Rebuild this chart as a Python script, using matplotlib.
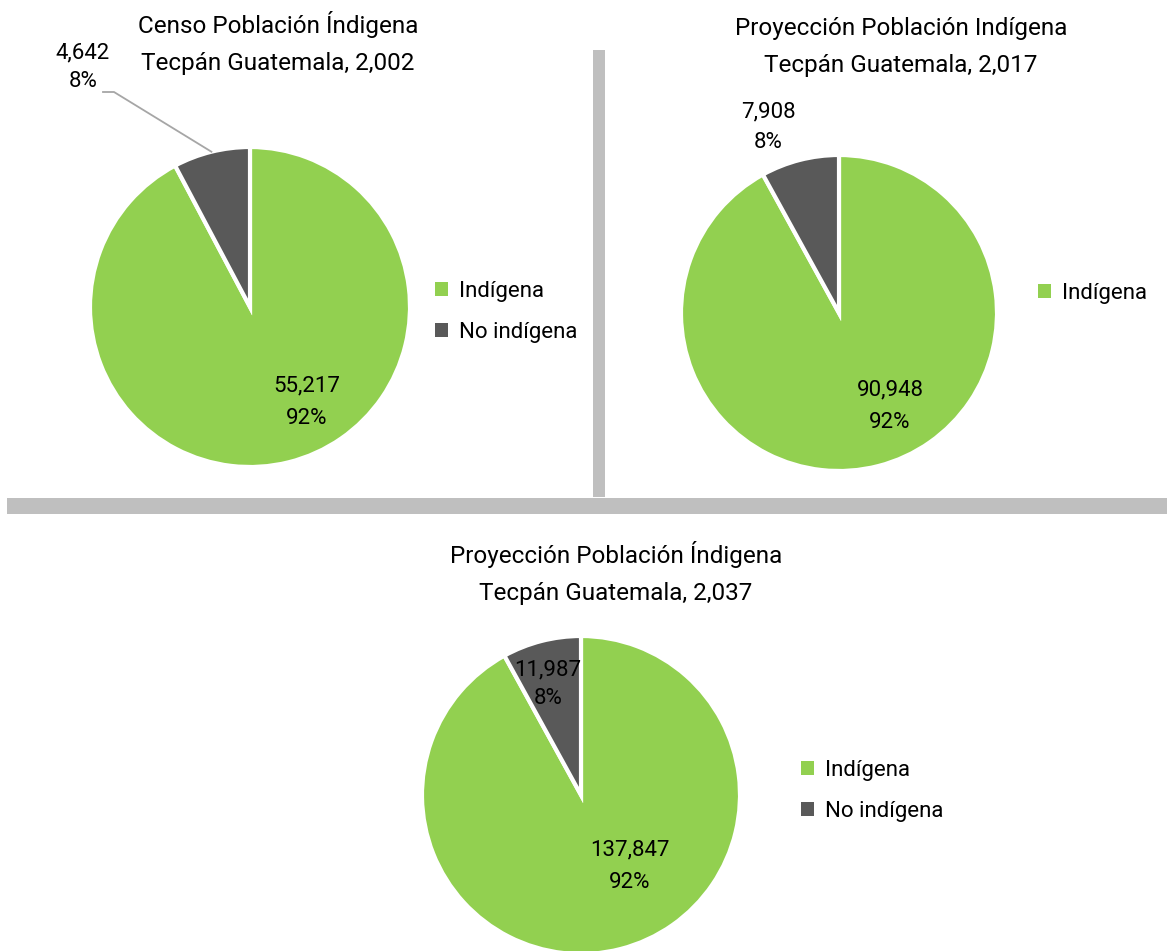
import matplotlib
matplotlib.use("Agg")
import matplotlib.pyplot as plt
from matplotlib.patches import Patch, Rectangle
import numpy as np

# ---------------- data ----------------
categories = ["Indígena", "No indígena"]
titles = [
    "Censo Población Índigena\nTecpán Guatemala, 2,002",
    "Proyección Población Indígena\nTecpán Guatemala, 2,017",
    "Proyección Población Índigena\nTecpán Guatemala, 2,037",
]
values_2002 = [55217, 4642]
values_2017 = [90948, 7908]
values_2037 = [137847, 11987]
legend_shown = [["Indígena", "No indígena"], ["Indígena"], ["Indígena", "No indígena"]]

colors = ["#92D050", "#595959"]
W, H = 1167, 951

plt.rcParams['font.family'] = ['Liberation Sans Narrow', 'Roboto', 'DejaVu Sans']
fig = plt.figure(figsize=(W / 100, H / 100), dpi=100)
fig.patch.set_facecolor("white")


def fx(x):
    return x / W


def fy(y):
    return 1 - y / H


# separator bars (figure decorations)
fig.add_artist(Rectangle((fx(593), fy(497)), (605 - 593) / W, (497 - 50) / H,
                         transform=fig.transFigure, color="#BFBFBF", lw=0))
fig.add_artist(Rectangle((fx(7), fy(514)), (W - 7) / W, (514 - 498) / H,
                         transform=fig.transFigure, color="#BFBFBF", lw=0))

# layout: center x, center y, radius (pixels)
layouts = [(250, 307, 160), (839, 313, 158), (581, 795, 159)]
title_pos = [(278, 43), (901, 47), (616, 573)]
legend_pos = [(435, 312), (1038, 293), (801, 791)]
green_lbl = [(307, 402), (890, 406), (630, 866)]
gray_lbl = [(83, 67), (768, 127), (548, 684)]
gray_spacing = [1.45, 1.6, 1.45]

all_values = [values_2002, values_2017, values_2037]

for i, vals in enumerate(all_values):
    cx, cy, r = layouts[i]
    ax = fig.add_axes([fx(cx - r), fy(cy + r), 2 * r / W, 2 * r / H])
    wedges, _ = ax.pie(vals, colors=colors, startangle=90, counterclock=False,
                       radius=1.0,
                       wedgeprops=dict(edgecolor="white", linewidth=3))
    ax.set_xlim(-1, 1)
    ax.set_ylim(-1, 1)
    ax.set_aspect("equal")
    ax.axis("off")
    total = sum(vals)
    pcts = [v / total * 100 for v in vals]
    gx, gy = green_lbl[i]
    ax.text((gx - cx) / r, (cy - gy) / r, f"{vals[0]:,}\n{pcts[0]:.0f}%",
            ha="center", va="center", fontsize=16, linespacing=1.7,
            color="#000000")
    kx, ky = gray_lbl[i]
    ax.text((kx - cx) / r, (cy - ky) / r, f"{vals[1]:,}\n{pcts[1]:.0f}%",
            ha="center", va="center", fontsize=16, linespacing=gray_spacing[i],
            color="#000000", clip_on=False)
    tx, ty = title_pos[i]
    fig.text(fx(tx), fy(ty), titles[i], ha="center", va="center",
             fontsize=17.5, linespacing=1.75)
    handles = [Patch(facecolor=colors[categories.index(c)], edgecolor="none", label=c)
               for c in legend_shown[i]]
    lx, ly = legend_pos[i]
    fig.legend(handles=handles, loc="center left", bbox_to_anchor=(fx(lx), fy(ly)),
               frameon=False, fontsize=16, handlelength=0.6, handleheight=0.6,
               handletextpad=0.5, labelspacing=0.9, borderaxespad=0, borderpad=0)

# leader line for first chart's small slice
cx, cy, r = layouts[0]
ax0 = fig.axes[0]
ang = np.deg2rad(90 + 360 * values_2002[1] / sum(values_2002) / 2)
ex, ey = np.cos(ang), np.sin(ang)
ax0.plot([(103 - cx) / r, (114 - cx) / r, ex], [(cy - 92) / r, (cy - 92) / r, ey],
         color="#A6A6A6", lw=1.3, clip_on=False)

fig.savefig("out.png", dpi=100, facecolor="white")
